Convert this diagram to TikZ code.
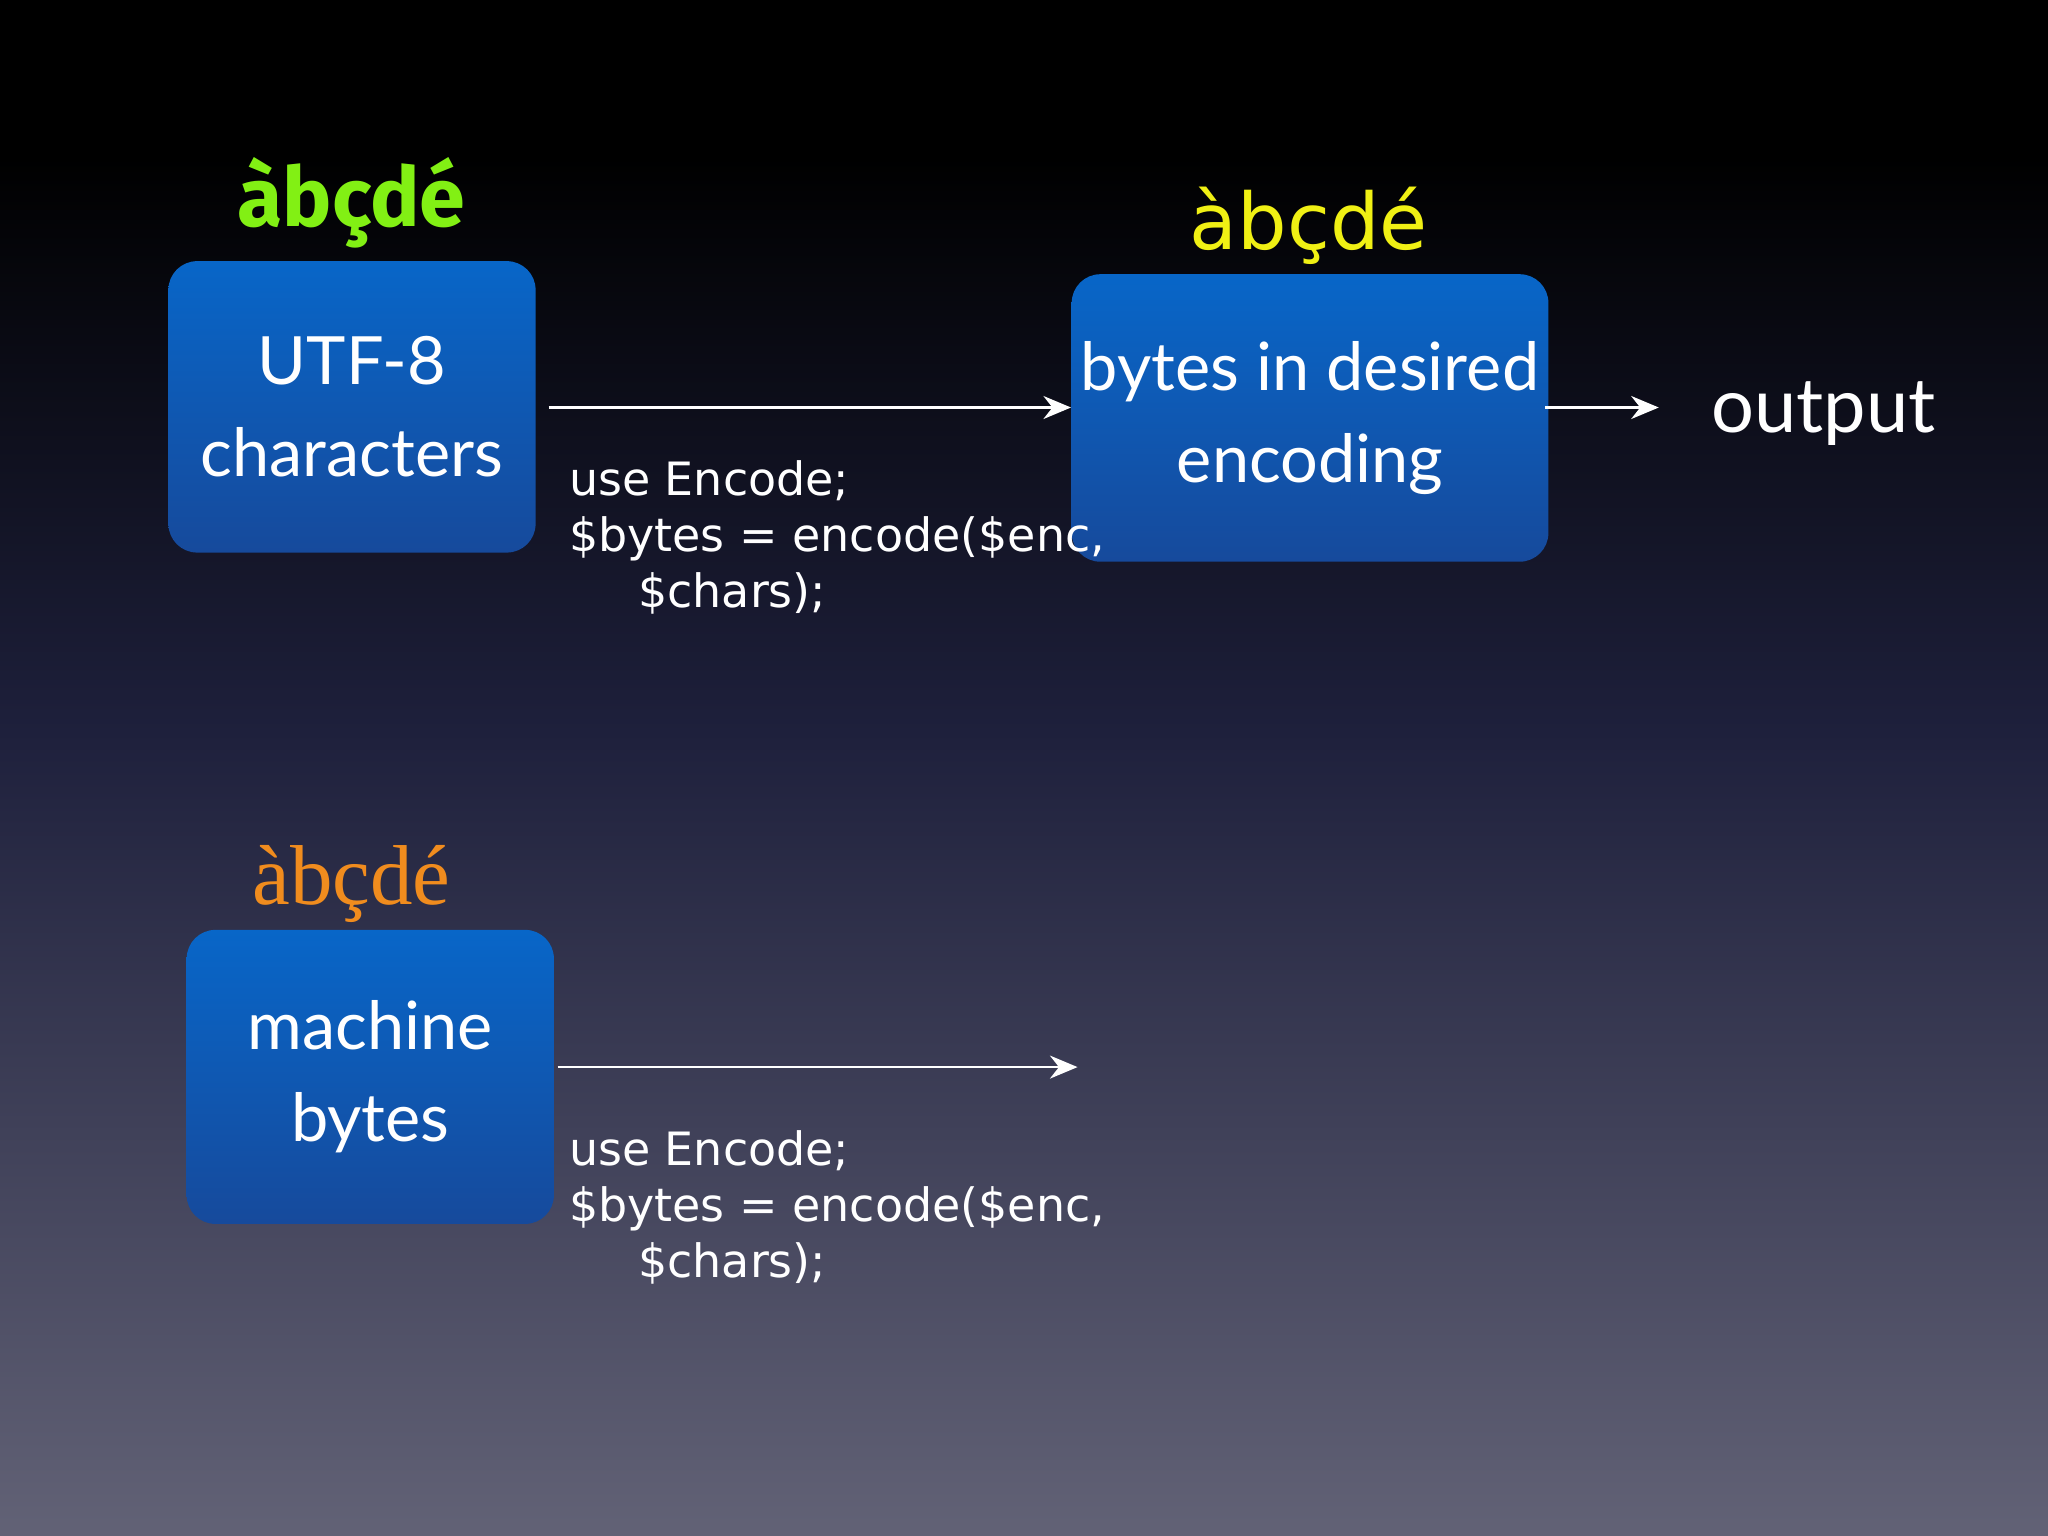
\documentclass[tikz,border=0pt]{standalone}
\usepackage{fontspec}
\setmainfont{Lato}
\newfontfamily\codef{DejaVu Sans}
\newfontfamily\serf{Liberation Serif}
\newfontfamily\condf{Fira Sans}
\usetikzlibrary{arrows.meta}
\definecolor{bgbot}{RGB}{98,98,118}
\definecolor{bgmid}{RGB}{30,32,60}
\definecolor{btop}{RGB}{8,102,200}
\definecolor{bbot}{RGB}{22,74,156}
\definecolor{grn}{RGB}{130,240,20}
\definecolor{yel}{RGB}{240,240,20}
\definecolor{org}{RGB}{240,140,30}
\tikzset{
 box/.style={rounded corners=0.22cm,top color=btop,bottom color=bbot,draw=none,
   text=white,align=center,inner sep=2pt,font=\fontsize{14.5}{20}\selectfont},
 code/.style={text=white,align=left,anchor=north west,inner sep=0pt,
   font=\codef\fontsize{10}{12.2}\selectfont},
 arr/.style={white,line width=0.6pt,-{Stealth[length=6pt,width=5pt]}}
}
\begin{document}
\begin{tikzpicture}[x=0.01cm,y=-0.01cm]
\useasboundingbox (0,0) rectangle (1568,1176);
\fill[black] (0,0) rectangle (1568,121);
\shade[top color=black,bottom color=bgmid] (0,120) rectangle (1568,561);
\shade[top color=bgmid,bottom color=bgbot] (0,560) rectangle (1568,1176);

\node[box,minimum width=2.81cm,minimum height=2.23cm] (utf) at (269.5,311.5) {UTF-8\\characters};
\node[box,minimum width=3.54cm,minimum height=2.2cm] (enc) at (1003,320) {bytes in desired\\encoding};
\node[box,minimum width=2.81cm,minimum height=2.25cm] (mach) at (283.5,824.5) {machine\\bytes};

\node[text=grn,font=\condf\bfseries\fontsize{18}{22}\selectfont] (l1) at (269,155) {àbçdé};
\node[text=yel,font=\codef\fontsize{17}{22}\selectfont] (l2) at (1002,173) {àbçdé};
\node[text=org,font=\serf\fontsize{18.5}{22}\selectfont] (l3) at (269,677) {àbçdé};

\node[text=white,font=\fontsize{16.5}{22}\selectfont] (out) at (1396,317) {output};

\coordinate (a1s) at (420,312);
\coordinate (a1e) at (820,312);
\coordinate (a2s) at (1183,312);
\coordinate (a2e) at (1270,312);
\coordinate (a3s) at (427,817);
\coordinate (a3e) at (825,817);
\draw[arr] (a1s) -- (a1e);
\draw[arr] (a2s) -- (a2e);
\draw[arr] (a3s) -- (a3e);

\node[code] (c1) at (435,352) {use Encode;\\\$bytes = encode(\$enc,\\\hspace*{0.53cm}\$chars);};
\node[code] (c2) at (435,865) {use Encode;\\\$bytes = encode(\$enc,\\\hspace*{0.53cm}\$chars);};
\end{tikzpicture}
\end{document}
